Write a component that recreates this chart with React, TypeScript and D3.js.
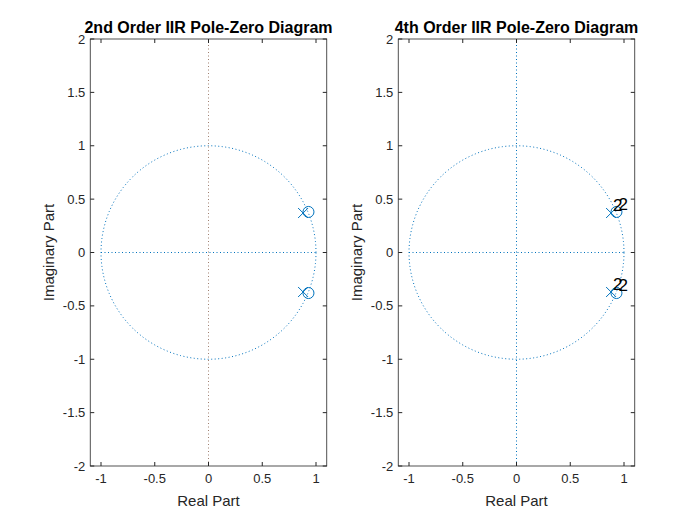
import React from 'react';
import * as d3 from 'd3';

const titles = ['2nd Order IIR Pole-Zero Diagram', '4th Order IIR Pole-Zero Diagram'];
const zeros = [
  { re: 0.93, im: 0.38 },
  { re: 0.93, im: -0.38 },
];
const poles = [
  { re: 0.88, im: 0.37 },
  { re: 0.88, im: -0.37 },
];
const multiplicity = [1, 2];
const xTicks = [-1, -0.5, 0, 0.5, 1];
const yTicks = [-2, -1.5, -1, -0.5, 0, 0.5, 1, 1.5, 2];

const BLUE = '#0072BD';
const FONT = 'Helvetica, Arial, "Liberation Sans", sans-serif';

function Panel({ left, idx }: { left: number; idx: number }) {
  const x = d3.scaleLinear().domain([-1.1, 1.1]).range([left, left + 236.5]);
  const y = d3.scaleLinear().domain([-2, 2]).range([466, 39]);
  const circle = d3.range(0, 361, 1.5).map(a => [Math.cos((a * Math.PI) / 180), Math.sin((a * Math.PI) / 180)]);
  const line = d3.line<number[]>().x(d => x(d[0])).y(d => y(d[1]));
  const m = multiplicity[idx];
  return (
    <g fontFamily={FONT}>
      <path d={line(circle) ?? ''} fill="none" stroke={BLUE} strokeWidth={1} strokeDasharray="1 2.5" />
      <line x1={x(-1)} x2={x(1)} y1={y(0)} y2={y(0)} stroke={BLUE} strokeDasharray="1 2.5" />
      <line x1={x(0)} x2={x(0)} y1={y(-2)} y2={y(2)} stroke={idx === 0 ? '#a08070' : BLUE} strokeDasharray="1 2.5" />
      {zeros.map((z, i) => (
        <circle key={'z' + i} cx={x(z.re)} cy={y(z.im)} r={5.5} fill="none" stroke={BLUE} />
      ))}
      {poles.map((p, i) => (
        <g key={'p' + i} stroke={BLUE}>
          <line x1={x(p.re) - 5} x2={x(p.re) + 5} y1={y(p.im) - 5} y2={y(p.im) + 5} />
          <line x1={x(p.re) - 5} x2={x(p.re) + 5} y1={y(p.im) + 5} y2={y(p.im) - 5} />
        </g>
      ))}
      {m > 1 &&
        zeros.map((z, i) => (
          <text key={'mz' + i} x={x(z.re) + 2} y={y(z.im) - 2} fontSize={17}>{m}</text>
        ))}
      {m > 1 &&
        poles.map((p, i) => (
          <text key={'mp' + i} x={x(p.re) + 2} y={y(p.im) - 2} fontSize={17}>{m}</text>
        ))}
      <rect x={x(-1.1)} y={y(2)} width={x(1.1) - x(-1.1)} height={y(-2) - y(2)} fill="none" stroke="#262626" strokeWidth={0.8} />
      {xTicks.map(t => (
        <g key={'x' + t}>
          <line x1={x(t)} x2={x(t)} y1={y(-2)} y2={y(-2) - 4} stroke="#262626" />
          <line x1={x(t)} x2={x(t)} y1={y(2)} y2={y(2) + 4} stroke="#262626" />
          <text x={x(t)} y={y(-2) + 17} textAnchor="middle" fontSize={13} fill="#262626">{t}</text>
        </g>
      ))}
      {yTicks.map(t => (
        <g key={'y' + t}>
          <line x1={x(-1.1)} x2={x(-1.1) + 4} y1={y(t)} y2={y(t)} stroke="#262626" />
          <line x1={x(1.1)} x2={x(1.1) - 4} y1={y(t)} y2={y(t)} stroke="#262626" />
          <text x={x(-1.1) - 5} y={y(t) + 4.5} textAnchor="end" fontSize={13} fill="#262626">{t}</text>
        </g>
      ))}
      <text x={(x(-1.1) + x(1.1)) / 2} y={33} textAnchor="middle" fontSize={16} fontWeight="bold">{titles[idx]}</text>
      <text x={(x(-1.1) + x(1.1)) / 2} y={506} textAnchor="middle" fontSize={15} fill="#262626">Real Part</text>
      <text transform={`translate(${left - 36},${y(0)}) rotate(-90)`} textAnchor="middle" fontSize={15} fill="#262626">Imaginary Part</text>
    </g>
  );
}

export default function App() {
  return (
    <svg width={700} height={525} style={{ position: 'absolute', left: 0, top: 0, background: '#fff' }}>
      <rect width={700} height={525} fill="#fff" />
      <Panel left={90.25} idx={0} />
      <Panel left={398.25} idx={1} />
    </svg>
  );
}
